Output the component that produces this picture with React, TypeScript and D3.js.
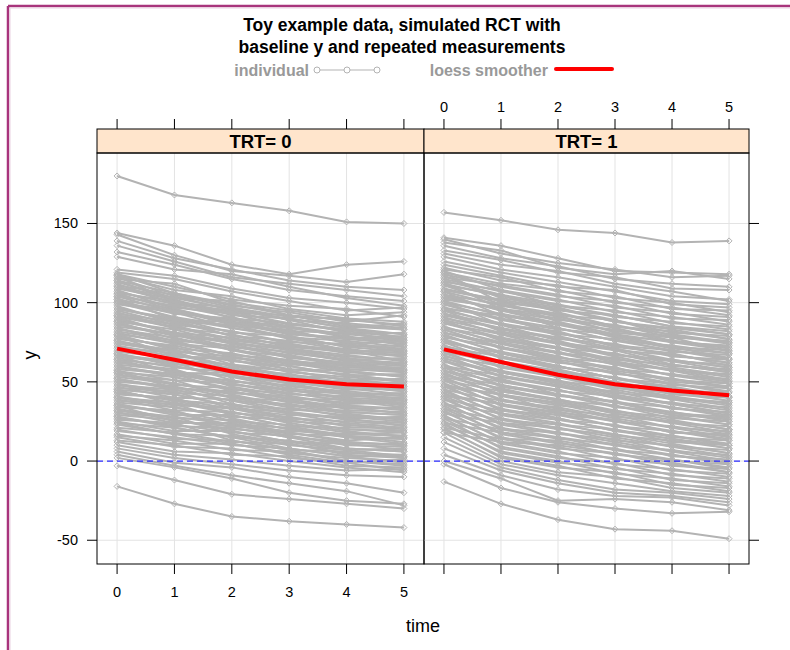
import React from "react";
import * as d3 from "d3";

const times = [0, 1, 2, 3, 4, 5];
const xTicks = [0, 1, 2, 3, 4, 5];
const yTicks = [-50, 0, 50, 100, 150];
const panelLabels = ["TRT= 0", "TRT= 1"];
const titleLines = ["Toy example data, simulated RCT with", "baseline y and repeated measurements"];
const legendLabels = ["individual", "loess smoother"];

const loess0 = [71, 64, 56.5, 51.5, 48.5, 47];
const loess1 = [70.5, 62.5, 54.5, 48.5, 44.5, 41.5];

const trt0Lines: number[][] = [
  [180,168,163,158,151,150],[144,136,124,118,124,126],[143,130,120,117,113,118],[139,128,121,114,110,108],
  [136,126,116,112,108,104],[132,124,115,108,104,101],[129,121,118,110,103,98],[121,117,109,103,100,96],
  [119,115,107,101,95,97],[118,110,102,98,96,91],[117,108,104,96,92,94],[115,112,100,95,90,88],
  [114,106,98,94,88,92],[113,103,101,92,89,86],[111,105,97,89,87,84],[110,100,94,92,85,83],
  [109,102,92,90,84,87],[107,99,95,86,83,80],[106,101,90,87,82,78],[105,97,93,84,80,81],
  [104,94,89,85,78,77],[102,96,87,82,81,75],[101,93,90,80,77,74],[100,91,85,83,74,76],
  [99,94,84,78,76,72],[97,88,86,77,73,71],[96,90,81,79,72,73],[95,86,82,75,74,69],
  [93,88,79,76,70,68],[92,84,80,72,71,66],[91,85,77,74,68,67],[89,81,78,70,66,64],
  [88,83,74,71,67,63],[87,79,75,68,64,65],[85,80,72,69,63,61],[84,76,73,65,62,60],
  [83,78,70,66,60,62],[81,74,71,63,61,57],[80,75,67,64,58,56],[79,71,68,61,59,58],
  [77,73,65,62,56,54],[76,69,66,58,57,53],[75,70,63,60,54,55],[73,66,64,56,53,50],
  [72,68,60,57,51,52],[71,64,61,54,52,48],[69,65,58,55,49,47],[68,61,59,51,50,49],
  [67,63,55,53,47,45],[65,59,56,49,48,44],[64,60,53,50,45,46],[63,56,54,47,44,41],
  [61,57,50,48,42,43],[60,54,51,44,43,39],[59,55,48,45,40,38],[57,51,49,42,41,40],
  [56,53,45,43,38,36],[55,48,46,39,39,35],[53,49,43,41,36,37],[52,46,44,37,35,32],
  [51,47,40,38,33,34],[49,43,41,35,34,30],[48,45,38,36,31,29],[47,40,39,32,32,31],
  [45,42,35,33,29,26],[44,38,36,30,27,28],[43,39,33,31,26,24],[41,35,34,27,25,23],
  [40,37,30,28,22,25],[39,32,31,25,23,20],[37,34,28,26,20,19],[36,29,29,22,21,21],
  [35,31,25,23,18,16],[33,27,26,20,17,18],[32,28,23,21,15,14],[31,24,24,17,16,12],
  [29,26,20,18,13,15],[28,22,21,15,12,10],[27,23,18,16,10,9],[25,19,19,12,11,11],
  [24,21,15,13,8,6],[23,17,16,10,7,8],[21,18,12,11,5,4],[20,14,13,7,6,2],
  [19,15,10,8,3,3],[17,11,11,5,2,0],[16,13,7,6,0,-2],[15,9,8,2,-1,1],
  [13,10,4,3,-3,-4],[12,6,5,0,-4,-7],[10,4,1,-3,-6,-5],[8,2,-2,-6,-9,-10],
  [6,-1,-4,-10,-14,-20],[4,-3,-9,-14,-19,-28],[2,-4,-11,-20,-25,-27],[-3,-12,-21,-24,-27,-30],
  [-16,-27,-35,-38,-40,-42],
  [118,106,99,92,86,83],[116,104,95,90,84,80],[114,101,94,87,83,78],[112,99,93,85,80,77],
  [110,103,96,89,81,76],[108,96,88,84,79,73],[106,95,87,80,78,75],[104,98,91,82,75,70],
  [102,90,84,79,72,69],[100,95,86,78,70,68],[98,87,82,74,69,66],[96,89,79,73,70,63],
  [94,84,77,71,65,61],[92,86,75,70,64,62],[90,81,74,66,62,58],[88,77,72,67,61,56],
  [86,80,70,63,58,57],[84,74,67,63,57,53],[82,76,66,60,54,51],[80,70,64,58,55,50],
  [78,72,61,57,51,47],[76,67,60,53,50,48],[74,69,58,52,47,44],[72,63,57,50,46,42],
  [70,65,54,49,43,41],[68,60,53,46,42,38],[66,62,51,45,39,37],[64,56,49,43,38,34],
  [62,58,47,41,35,33],[60,53,46,39,34,30],[58,55,44,38,31,29],[56,49,42,35,30,26],
  [54,51,40,34,28,25],[52,45,38,31,27,22],[50,47,36,30,24,21],[48,42,35,27,23,19],
  [46,44,33,26,20,18],[44,38,31,24,19,15],[42,40,29,22,16,14],[40,34,27,20,15,11],
  [38,36,25,18,12,10],[36,30,23,16,11,7],[34,32,21,15,8,6],[32,26,19,12,7,3],
  [30,28,17,11,4,2],[28,21,15,8,3,-1],[26,24,13,7,0,-3],[24,17,11,4,-1,-6],
  [117,100,97,91,90,85],[103,89,88,81,77,79],[91,80,76,72,69,70],[79,66,65,62,60,59],
  [67,55,56,50,47,50],[57,46,43,40,37,39],[45,36,33,29,28,27],[35,25,22,19,17,16],
];

const trt1Lines: number[][] = [
  [157,152,146,144,138,139],[141,136,128,120,119,118],[140,131,125,121,116,117],[138,133,122,118,120,115],
  [136,128,123,115,112,110],[133,127,119,116,109,108],[131,124,120,112,107,101],[129,121,116,110,104,102],
  [126,119,113,107,101,99],[124,117,110,108,99,97],[122,114,111,103,100,94],[121,116,107,104,96,95],
  [119,112,108,100,97,92],[118,110,104,101,93,91],[116,111,105,97,94,88],[115,107,101,98,90,89],
  [113,108,102,94,91,86],[112,104,98,95,87,85],[111,105,99,91,88,83],[109,101,95,92,85,82],
  [108,102,96,88,84,80],[107,98,92,89,81,79],[105,99,93,85,82,77],[104,95,89,86,78,76],
  [103,96,90,82,79,74],[101,92,86,83,75,73],[100,93,87,79,76,71],[99,89,83,80,72,70],
  [97,90,84,76,73,68],[96,86,80,77,69,67],[95,87,81,73,70,65],[93,83,77,74,66,64],
  [92,84,78,70,67,62],[91,80,74,71,63,61],[89,81,75,67,64,59],[88,77,71,68,60,58],
  [87,78,72,64,61,56],[85,74,68,65,57,55],[84,75,69,61,58,53],[83,71,65,62,54,52],
  [81,72,66,58,55,50],[80,68,62,59,51,49],[79,69,63,55,52,47],[77,65,59,56,48,46],
  [76,66,60,52,49,44],[75,62,56,53,45,43],[73,63,57,49,46,41],[72,59,53,50,42,40],
  [71,60,54,46,43,38],[69,56,50,47,39,37],[68,57,51,43,40,35],[67,53,47,44,36,34],
  [65,54,48,40,37,32],[64,50,44,41,33,31],[63,51,45,37,34,29],[61,47,41,38,30,28],
  [60,48,42,34,31,26],[59,44,38,35,27,25],[57,45,39,31,28,23],[56,41,35,32,24,22],
  [55,42,36,28,25,20],[53,38,32,29,21,19],[52,39,33,25,22,17],[51,35,29,26,18,16],
  [49,36,30,22,19,14],[48,32,26,23,15,13],[47,33,27,19,16,11],[45,29,23,20,12,10],
  [44,30,24,16,13,8],[43,26,20,17,9,7],[41,27,21,13,10,5],[40,23,17,14,6,4],
  [39,24,18,10,7,2],[37,20,14,11,3,1],[36,21,15,7,4,-1],[35,17,11,8,0,-2],
  [33,18,12,4,1,-4],[32,14,8,5,-3,-5],[31,15,9,1,-2,-7],[29,11,5,2,-6,-8],
  [28,12,6,-2,-5,-10],[27,8,2,-1,-9,-11],[25,9,3,-5,-8,-13],[24,5,-1,-4,-12,-14],
  [23,6,0,-8,-11,-16],[21,2,-4,-7,-15,-17],[20,3,-3,-11,-14,-19],[18,0,-7,-10,-17,-20],
  [15,-2,-9,-14,-19,-22],[12,-4,-12,-18,-20,-24],[8,-6,-14,-20,-22,-26],[4,-9,-18,-22,-23,-28],
  [0,-11,-25,-24,-26,-31],[-2,-17,-26,-30,-33,-32],[-13,-27,-37,-43,-44,-49],
  [120,108,98,92,85,80],[117,103,97,88,83,77],[114,105,94,85,80,75],[111,99,91,84,76,72],
  [108,101,88,80,75,70],[105,95,87,78,71,68],[102,97,84,76,70,64],[99,90,81,73,67,62],
  [96,92,79,71,64,59],[93,86,76,67,63,57],[90,84,74,66,59,54],[87,80,71,62,58,51],
  [84,78,68,61,54,49],[81,74,66,57,52,46],[78,72,63,56,49,43],[75,68,60,52,47,41],
  [72,66,58,50,44,38],[69,62,55,47,41,36],[66,60,53,45,39,33],[63,56,50,42,36,30],
  [60,54,47,40,34,28],[57,50,45,37,31,25],[54,48,42,35,29,23],[51,44,39,32,26,20],
  [48,42,37,30,24,18],[45,38,34,27,21,15],[42,36,31,25,19,13],[39,32,29,22,16,10],
  [36,30,26,20,14,8],[33,26,23,17,11,5],[30,24,21,15,9,3],[27,20,18,12,6,0],
  [24,18,15,10,4,-2],[21,14,13,7,1,-5],[18,12,10,5,-1,-7],
  [119,100,96,89,79,75],[113,96,92,81,78,69],[107,92,86,79,72,65],[101,86,82,72,68,60],
  [95,82,75,70,61,56],[89,76,71,63,57,50],[83,72,64,59,50,47],[77,66,60,52,46,40],
  [71,62,53,48,40,37],[65,56,49,41,36,30],[59,52,42,37,29,27],[53,46,38,30,25,20],
  [47,42,31,26,18,17],[41,36,27,19,14,10],
];

const panelData = [trt0Lines, trt1Lines];
const loessData = [loess0, loess1];

const FONT = "'Liberation Sans', Arial, sans-serif";
const GRAY = "#b3b3b3";

export default function App() {
  const top = 153, bottom = 564, stripTop = 129;
  const panels = [
    { left: 97, right: 424 },
    { left: 424, right: 749 },
  ];
  const y = d3.scaleLinear().domain([-65, 194.5]).range([bottom, top]);
  const xs = panels.map((p) => d3.scaleLinear().domain([-0.35, 5.35]).range([p.left, p.right]));

  const diamond = (cx: number, cy: number, r: number) =>
    `M${cx},${cy - r}L${cx + r},${cy}L${cx},${cy + r}L${cx - r},${cy}Z`;

  return (
    <svg width={790} height={650} style={{ position: "absolute", left: 0, top: 0, background: "#fff" }} fontFamily={FONT}>
      <defs>
        {panels.map((p, i) => (
          <clipPath id={`clip${i}`} key={i}>
            <rect x={p.left} y={top} width={p.right - p.left} height={bottom - top} />
          </clipPath>
        ))}
      </defs>
      <rect x={0} y={0} width={790} height={650} fill="#fff" />
      <line x1={8} y1={6} x2={790} y2={6} stroke="#a8347c" strokeWidth={2.5} />
      <line x1={8} y1={6} x2={8} y2={650} stroke="#a8347c" strokeWidth={2.5} />
      <line x1={10} y1={8} x2={790} y2={8} stroke="#ead2e2" strokeWidth={1} />
      <line x1={10} y1={8} x2={10} y2={650} stroke="#ead2e2" strokeWidth={1} />

      {titleLines.map((t, i) => (
        <text key={i} x={402} y={31 + i * 22} textAnchor="middle" fontSize={17.5} fontWeight="bold" fill="#000">
          {t}
        </text>
      ))}

      <text x={309} y={76} textAnchor="end" fontSize={16} fontWeight="bold" fill="#999">{legendLabels[0]}</text>
      <line x1={316} y1={70} x2={377} y2={70} stroke={GRAY} strokeWidth={1} />
      {[317, 347, 377].map((cx) => (
        <circle key={cx} cx={cx} cy={70} r={3} fill="#fff" stroke={GRAY} strokeWidth={1} />
      ))}
      <text x={548} y={76} textAnchor="end" fontSize={16} fontWeight="bold" fill="#999">{legendLabels[1]}</text>
      <line x1={556} y1={69} x2={612} y2={69} stroke="#ff0000" strokeWidth={4} strokeLinecap="round" />

      {panels.map((p, i) => {
        const x = xs[i];
        const line = d3
          .line<number>()
          .x((_, k) => x(times[k]))
          .y((v) => y(v));
        return (
          <g key={i}>
            {xTicks.map((t) => (
              <line key={`gx${t}`} x1={x(t)} x2={x(t)} y1={top} y2={bottom} stroke="#e3e3e3" strokeWidth={1} />
            ))}
            {yTicks.map((t) => (
              <line key={`gy${t}`} x1={p.left} x2={p.right} y1={y(t)} y2={y(t)} stroke="#e3e3e3" strokeWidth={1} />
            ))}
            <g clipPath={`url(#clip${i})`}>
              {panelData[i].map((vals, j) => (
                <path key={j} d={line(vals) || ""} fill="none" stroke={GRAY} strokeWidth={2} />
              ))}
              {panelData[i].map((vals, j) =>
                vals.map((v, k) => (
                  <path key={`${j}-${k}`} d={diamond(x(times[k]), y(v), 3)} fill="none" stroke={GRAY} strokeWidth={1} />
                ))
              )}
              <line x1={p.left} x2={p.right} y1={y(0)} y2={y(0)} stroke="#2b2bff" strokeWidth={1.3} strokeDasharray="6,4" />
              <path d={line(loessData[i]) || ""} fill="none" stroke="#ff0000" strokeWidth={4} />
            </g>
            <rect x={p.left} y={stripTop} width={p.right - p.left} height={top - stripTop} fill="#ffe5cc" stroke="#000" strokeWidth={1} />
            <text x={(p.left + p.right) / 2} y={148} textAnchor="middle" fontSize={18.5} fontWeight="bold" fill="#000">
              {panelLabels[i]}
            </text>
            <rect x={p.left} y={top} width={p.right - p.left} height={bottom - top} fill="none" stroke="#000" strokeWidth={1} />
            {xTicks.map((t) => (
              <line key={`tt${t}`} x1={x(t)} x2={x(t)} y1={stripTop} y2={stripTop - 10} stroke="#000" strokeWidth={1} />
            ))}
            {i === 1 &&
              xTicks.map((t) => (
                <text key={`tl${t}`} x={x(t)} y={112} textAnchor="middle" fontSize={14.5} fill="#000">{t}</text>
              ))}
            {xTicks.map((t) => (
              <line key={`bt${t}`} x1={x(t)} x2={x(t)} y1={bottom} y2={bottom + 10} stroke="#000" strokeWidth={1} />
            ))}
            {i === 0 &&
              xTicks.map((t) => (
                <text key={`bl${t}`} x={x(t)} y={597} textAnchor="middle" fontSize={14.5} fill="#000">{t}</text>
              ))}
          </g>
        );
      })}

      {yTicks.map((t) => (
        <g key={`ly${t}`}>
          <line x1={87} x2={97} y1={y(t)} y2={y(t)} stroke="#000" strokeWidth={1} />
          <text x={78} y={y(t) + 5} textAnchor="end" fontSize={14.5} fill="#000">{t}</text>
          <line x1={749} x2={759} y1={y(t)} y2={y(t)} stroke="#000" strokeWidth={1} />
        </g>
      ))}

      <text x={36} y={355} transform="rotate(-90 36 355)" textAnchor="middle" fontSize={18} fill="#000">y</text>
      <text x={423} y={632} textAnchor="middle" fontSize={18} fill="#000">time</text>
    </svg>
  );
}
